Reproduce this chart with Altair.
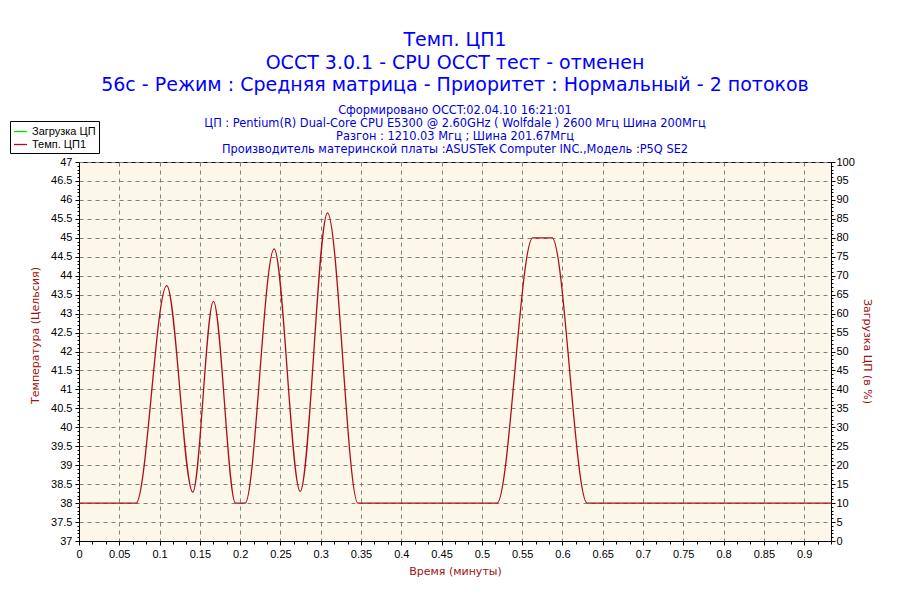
import altair as alt
import pandas as pd

TITLE_LINES = [
    "Темп. ЦП1",
    "OCCT 3.0.1 - CPU OCCT тест - отменен",
    "56с - Режим : Средняя матрица - Приоритет : Нормальный - 2 потоков",
]
SUBTITLE_LINES = [
    "Сформировано OCCT:02.04.10 16:21:01",
    "ЦП : Pentium(R) Dual-Core CPU E5300 @ 2.60GHz ( Wolfdale ) 2600 Мгц Шина 200Мгц",
    "Разгон : 1210.03 Мгц ; Шина 201.67Мгц",
    "Производитель материнской платы :ASUSTeK Computer INC.,Модель :P5Q SE2",
]

SERIES = ["Загрузка ЦП", "Темп. ЦП1"]
SERIES_COLORS = ["#00e000", "#a8101c"]

# Temperature series (minutes, degrees C)
TIME = [0.0, 0.0708, 0.1089, 0.1412, 0.1668, 0.1942, 0.2062, 0.2422, 0.2745,
        0.3084, 0.3462, 0.5189, 0.5631, 0.5872, 0.6307, 0.9333]
TEMP = [38, 38, 43.74, 38.29, 43.32, 38, 38, 44.71, 38.31,
        45.66, 38, 38, 45, 45, 38, 38]

# CPU load series (not visible in the picture: stays at 0)
LOAD_TIME = [0.0, 0.9333]
LOAD = [0, 0]

X_DOMAIN = [0, 56 / 60]
TEMP_DOMAIN = [37, 47]
LOAD_DOMAIN = [0, 100]

X_TICKS = [i / 60 for i in range(57)]
TEMP_TICKS = [round(37 + i * 0.1, 1) for i in range(101)]
LOAD_TICKS = list(range(0, 101))

temp_df = pd.DataFrame({"t": TIME, "temp": TEMP, "series": SERIES[1]})
load_df = pd.DataFrame({"t": LOAD_TIME, "load": LOAD})

LABEL_FONT = "Liberation Sans"
TITLE_FONT = "DejaVu Sans"
RED = "#a01010"

x_major = "abs(datum.value*20 - round(datum.value*20)) < 1e-6"
t_major = "abs(datum.value*2 - round(datum.value*2)) < 1e-6"
l_major = "datum.value % 5 == 0"

x_axis = alt.Axis(
    values=X_TICKS,
    labelExpr=f"({x_major}) ? '' + round(datum.value*20)/20 : ''",
    tickSize={"condition": {"test": x_major, "value": 4}, "value": 3},
    gridOpacity={"condition": {"test": x_major, "value": 1}, "value": 0},
    grid=True, gridColor="#808080", gridDash=[4, 4], gridWidth=1,
    domainColor="black", tickColor="black", labelColor="black",
    labelFont=LABEL_FONT, labelFontSize=11, labelPadding=3,
    labelOverlap=False, labelFlush=False,
    title="Время (минуты)", titleColor=RED, titleFont=TITLE_FONT,
    titleFontSize=11, titleFontWeight="normal", titlePadding=6,
)

temp_axis = alt.Axis(
    orient="left",
    values=TEMP_TICKS,
    labelExpr=f"({t_major}) ? '' + round(datum.value*2)/2 : ''",
    tickSize={"condition": {"test": t_major, "value": 4}, "value": 2},
    gridOpacity={"condition": {"test": t_major, "value": 1}, "value": 0},
    grid=True, gridColor="#808080", gridDash=[4, 4], gridWidth=1,
    domainColor="black", tickColor="black", labelColor="black",
    labelFont=LABEL_FONT, labelFontSize=11, labelPadding=3,
    labelOverlap=False, labelFlush=False,
    title="Температура (Цельсия)", titleColor=RED, titleFont=TITLE_FONT,
    titleFontSize=11, titleFontWeight="normal",
    titleAngle=270, titleX=-44, titleY=173, titleAlign="center", titleBaseline="middle",
)

load_axis = alt.Axis(
    orient="right",
    values=LOAD_TICKS,
    labelExpr=f"({l_major}) ? '' + datum.value : ''",
    tickSize={"condition": {"test": l_major, "value": 4}, "value": 2},
    grid=False,
    domainColor="black", tickColor="black", labelColor="black",
    labelFont=LABEL_FONT, labelFontSize=11, labelPadding=1,
    labelOverlap=False, labelFlush=False,
    title="Загрузка ЦП (в %)", titleColor=RED, titleFont=TITLE_FONT,
    titleFontSize=11, titleFontWeight="normal",
    titleAngle=90, titleX=35, titleY=189, titleAlign="center", titleBaseline="middle",
)

x_enc = alt.X("t:Q", scale=alt.Scale(domain=X_DOMAIN, nice=False, zero=False), axis=x_axis)

temp_line = alt.Chart(temp_df).mark_line(
    interpolate="monotone", strokeWidth=1.3, clip=True
).encode(
    x=x_enc,
    y=alt.Y("temp:Q", scale=alt.Scale(domain=TEMP_DOMAIN, nice=False, zero=False), axis=temp_axis),
    color=alt.Color(
        "series:N",
        scale=alt.Scale(domain=SERIES, range=SERIES_COLORS),
        legend=alt.Legend(
            orient="none", legendX=-69, legendY=-41, title=None,
            fillColor="white", strokeColor="black", padding=3,
            symbolType="stroke", symbolSize=169, symbolStrokeWidth=1.3,
            labelFont=LABEL_FONT, labelFontSize=11, labelColor="black",
            rowPadding=0, labelOffset=4, cornerRadius=0,
        ),
    ),
)

load_line = alt.Chart(load_df).mark_line(
    color=SERIES_COLORS[0], strokeOpacity=0
).encode(
    x=x_enc,
    y=alt.Y("load:Q", scale=alt.Scale(domain=LOAD_DOMAIN, nice=False), axis=load_axis),
)

chart = alt.layer(temp_line, load_line).resolve_scale(y="independent").properties(
    width=752,
    height=379,
    autosize=alt.AutoSizeParams(type="none"),
    padding={"left": 79, "top": 162, "right": 69, "bottom": 59},
    background="white",
    title=alt.TitleParams(
        text=TITLE_LINES,
        subtitle=SUBTITLE_LINES,
        color="#0000ff",
        subtitleColor="#0000dd",
        font=TITLE_FONT,
        subtitleFont=TITLE_FONT,
        fontSize=19,
        subtitleFontSize=11.4,
        fontWeight="normal",
        lineHeight=22.5,
        subtitleLineHeight=13,
        anchor="middle",
        offset=-35,
        subtitlePadding=10,
    ),
).configure_view(fill="#fdf7e9", stroke="black", strokeWidth=1)

chart.save("out.html", embed_options={"renderer": "svg", "actions": False})
